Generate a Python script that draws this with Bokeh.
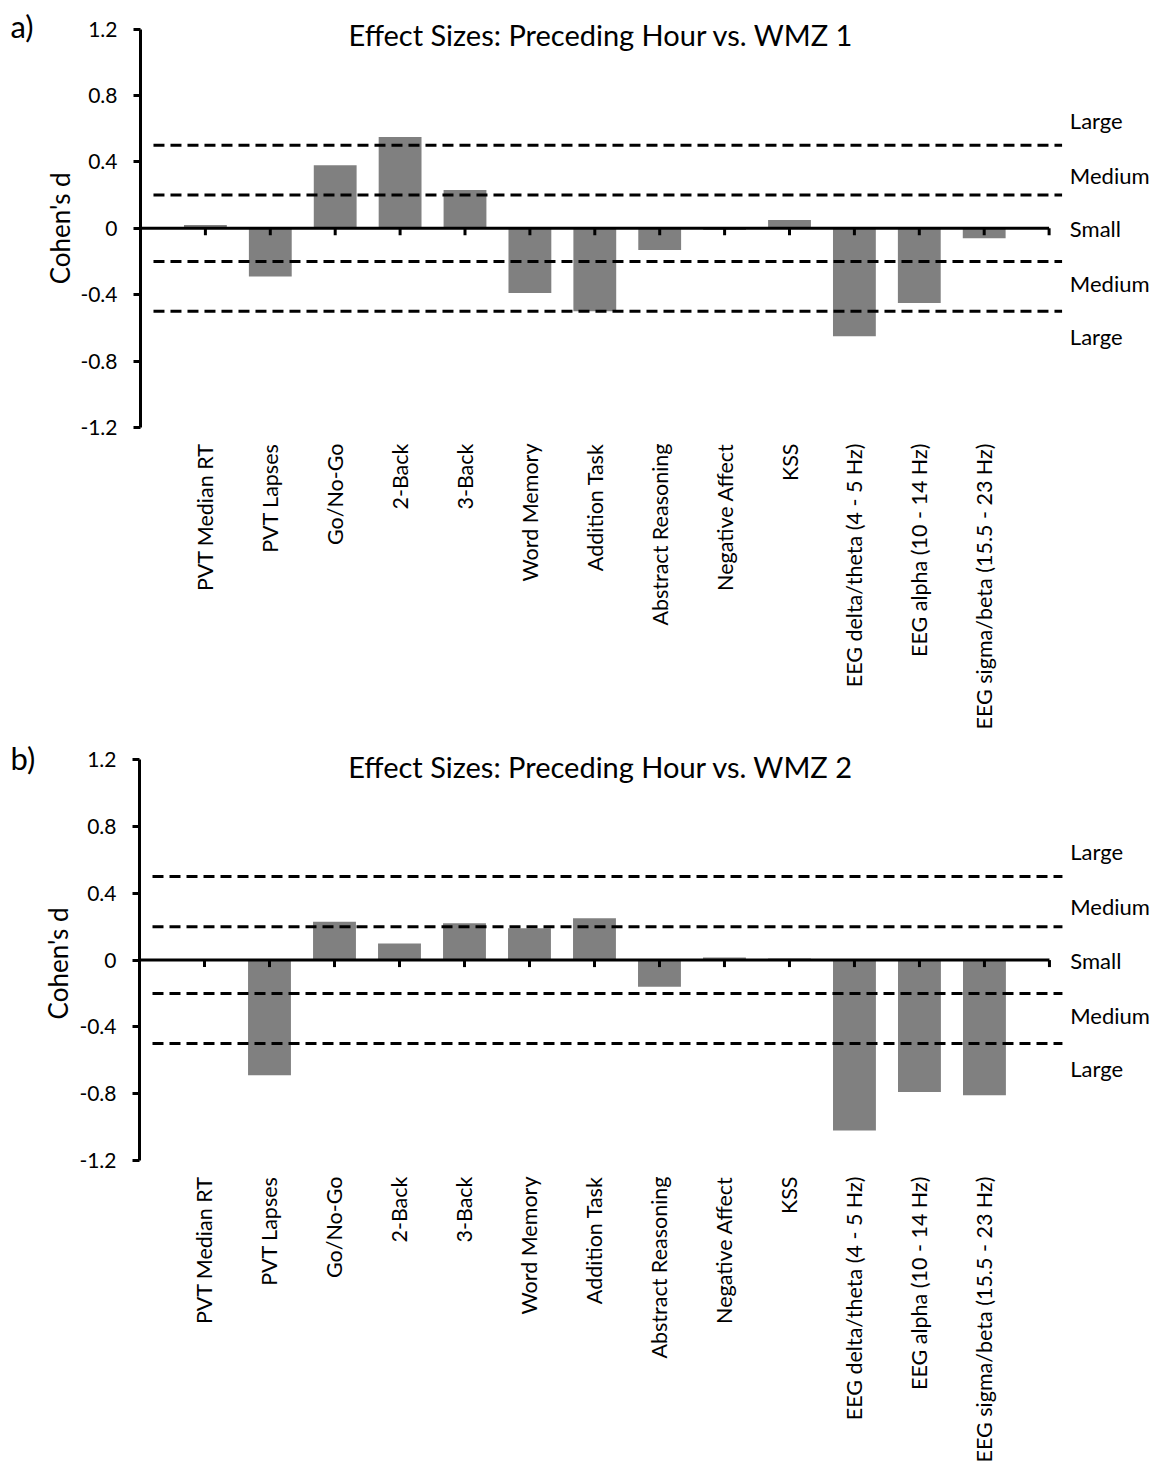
import math
from bokeh.plotting import figure
from bokeh.models import Range1d, FixedTicker, CustomJSTickFormatter, ColumnDataSource
from bokeh.layouts import column, row
from bokeh.embed import file_html
from bokeh.resources import INLINE
from bokeh.core.properties import value

# ---------------- data ----------------
categories = ["PVT Median RT", "PVT Lapses", "Go/No-Go", "2-Back", "3-Back",
              "Word Memory", "Addition Task", "Abstract Reasoning", "Negative Affect",
              "KSS", "EEG delta/theta (4 - 5 Hz)", "EEG alpha (10 - 14 Hz)",
              "EEG sigma/beta (15.5 - 23 Hz)"]
wmz1_d = [0.02, -0.29, 0.38, 0.55, 0.23, -0.39, -0.50, -0.13, -0.01, 0.05, -0.65, -0.45, -0.06]
wmz2_d = [0.0, -0.69, 0.23, 0.10, 0.22, 0.19, 0.25, -0.16, 0.015, 0.01, -1.02, -0.79, -0.81]
y_ticks = [-1.2, -0.8, -0.4, 0.0, 0.4, 0.8, 1.2]
threshold_levels = [0.5, 0.2, -0.2, -0.5]
zone_labels = ["Large", "Medium", "Small", "Medium", "Large"]
zone_label_y = [0.65, 0.32, 0.0, -0.33, -0.65]
titles = ["Effect Sizes: Preceding Hour vs. WMZ 1", "Effect Sizes: Preceding Hour vs. WMZ 2"]
panel_tags = ["a)", "b)"]
y_label = "Cohen's d"

FONT = "Lato"
BAR_COLOR = "#808080"
SIDE_W = 76
TOTAL_W = 1158


def style_plain(p):
    p.outline_line_color = None
    p.background_fill_color = "white"
    p.border_fill_color = "white"


def make_side(tag, height, px_y, border_bottom, tag_y, lab_x, lab_y):
    frame_h = height - border_bottom
    y_end = -1.2 + frame_h / px_y
    s = figure(width=SIDE_W, height=height, output_backend="svg", toolbar_location=None,
               x_range=Range1d(0, SIDE_W), y_range=Range1d(-1.2, y_end),
               x_axis_type=None, y_axis_type=None,
               min_border_left=0, min_border_right=0, min_border_top=0,
               min_border_bottom=border_bottom)
    style_plain(s)
    s.grid.visible = False
    s.text(x=[10], y=[tag_y], text=[tag], text_font=value(FONT), text_font_size="31px",
           text_color="black", text_align="left", text_baseline="middle")
    s.text(x=[lab_x], y=[lab_y], text=[y_label], angle=math.pi / 2,
           text_font=value(FONT), text_font_size="26px", text_color="black",
           text_align="center", text_baseline="middle")
    return s


def make_panel(title, vals, height, frame_left, px_x, px_y, border_bottom, title_y):
    n = len(categories)
    xs = list(range(1, n + 1))
    width = TOTAL_W - SIDE_W
    frame_w = TOTAL_W - frame_left
    frame_h = height - border_bottom
    x_end = frame_w / px_x
    y_end = -1.2 + frame_h / px_y
    p = figure(width=width, height=height, output_backend="svg", toolbar_location=None,
               x_range=Range1d(0, x_end), y_range=Range1d(-1.2, y_end),
               min_border_left=frame_left - SIDE_W, min_border_right=0, min_border_top=0,
               min_border_bottom=border_bottom)
    style_plain(p)
    p.xgrid.visible = False
    p.ygrid.visible = False

    src = ColumnDataSource(dict(x=xs, top=vals))
    p.vbar(x="x", top="top", bottom=0, width=0.66, source=src,
           fill_color=BAR_COLOR, line_color=None)

    # dashed threshold lines
    p.segment(x0=[0.2] * len(threshold_levels), x1=[n + 1.2] * len(threshold_levels),
              y0=threshold_levels, y1=threshold_levels,
              line_color="black", line_width=3, line_dash="11 6")

    # zero axis line with tick marks
    tick_len = 7.0 / px_y
    p.segment(x0=[0], x1=[n + 1], y0=[0], y1=[0], line_color="black", line_width=3)
    tx = list(range(1, n + 2))
    p.segment(x0=tx, x1=tx, y0=[0] * len(tx), y1=[-tick_len] * len(tx),
              line_color="black", line_width=3)

    # y axis
    ya = p.yaxis[0]
    ya.bounds = (-1.2, 1.2)
    ya.ticker = FixedTicker(ticks=y_ticks)
    ya.formatter = CustomJSTickFormatter(code="return Math.abs(tick) < 1e-9 ? '0' : tick.toFixed(1);")
    ya.axis_line_width = 3
    ya.axis_line_color = "black"
    ya.major_tick_line_width = 3
    ya.major_tick_out = 7
    ya.major_tick_in = 0
    ya.minor_tick_line_color = None
    ya.major_label_standoff = 16
    ya.major_label_text_font = FONT
    ya.major_label_text_font_size = "21px"
    ya.major_label_text_color = "black"

    # x axis: category labels only
    xa = p.xaxis[0]
    xa.ticker = FixedTicker(ticks=xs)
    xa.major_label_overrides = {i: c for i, c in zip(xs, categories)}
    xa.major_label_orientation = math.pi / 2
    xa.axis_line_color = None
    xa.major_tick_line_color = None
    xa.minor_tick_line_color = None
    xa.major_tick_out = 0
    xa.major_tick_in = 0
    xa.major_label_standoff = 16
    xa.major_label_text_font = FONT
    xa.major_label_text_font_size = "21.5px"
    xa.major_label_text_color = "black"

    # zone labels at the right
    p.text(x=[n + 1.32] * len(zone_labels), y=zone_label_y, text=zone_labels,
           text_font=value(FONT), text_font_size="22px", text_color="black",
           text_align="left", text_baseline="middle")

    # title
    p.text(x=[7.1], y=[title_y], text=[title], text_font=value(FONT), text_font_size="29px",
           text_color="black", text_align="center", text_baseline="middle")
    return p


# panel a: image rows 0..736 ; panel b: rows 736..1468
sa = make_side(panel_tags[0], 736, 166.0, 309, 1.22, 59, 0.0)
pa = make_panel(titles[0], wmz1_d, 736, 140, 64.9, 166.0, 309, 1.17)
sb = make_side(panel_tags[1], 732, 167.0, 308, 1.21, 57, -0.02)
pb = make_panel(titles[1], wmz2_d, 732, 138, 65.06, 167.0, 308, 1.157)

layout = column(row(sa, pa, spacing=0), row(sb, pb, spacing=0), spacing=0)
open("out.html", "w").write(file_html(layout, INLINE))
